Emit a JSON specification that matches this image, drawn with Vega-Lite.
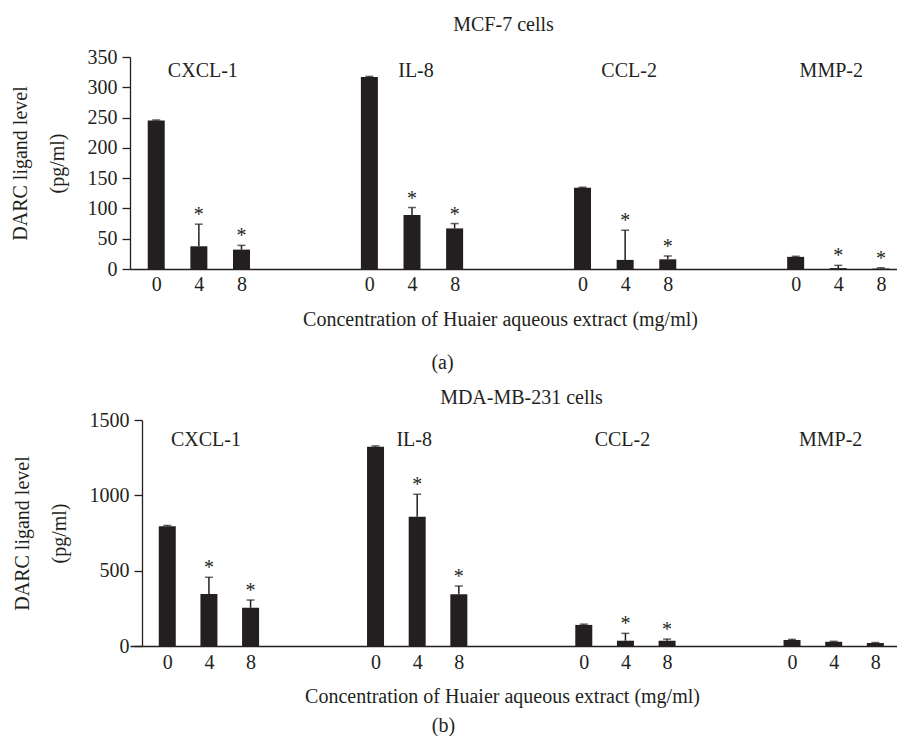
{
  "$schema": "https://vega.github.io/schema/vega-lite/v6.json",
  "padding": {"left": 10, "top": 15, "right": 0, "bottom": 0},
  "background": "white",
  "config": {
    "font": "Liberation Serif",
    "view": {"stroke": null},
    "axis": {
      "grid": false,
      "labelFont": "Liberation Serif",
      "labelFontSize": 20,
      "labelColor": "#231f20",
      "labelOverlap": false,
      "titleFont": "Liberation Serif",
      "titleFontSize": 20,
      "titleFontWeight": "normal",
      "titleColor": "#231f20",
      "domainColor": "#231f20",
      "domainWidth": 1.3,
      "tickColor": "#231f20",
      "tickWidth": 1.3,
      "tickSize": 8
    },
    "title": {"font": "Liberation Serif", "fontSize": 20, "fontWeight": "normal", "color": "#231f20"},
    "text": {"font": "Liberation Serif", "fontSize": 20, "color": "#231f20"}
  },
  "datasets": {
    "mcf": [
      {"ligand": "CXCL-1", "conc": 0, "value": 245, "sd": 1, "sig": false},
      {"ligand": "CXCL-1", "conc": 4, "value": 37.5, "sd": 36.5, "sig": true},
      {"ligand": "CXCL-1", "conc": 8, "value": 32, "sd": 7, "sig": true},
      {"ligand": "IL-8", "conc": 0, "value": 317, "sd": 1, "sig": false},
      {"ligand": "IL-8", "conc": 4, "value": 89, "sd": 12.5, "sig": true},
      {"ligand": "IL-8", "conc": 8, "value": 67, "sd": 8, "sig": true},
      {"ligand": "CCL-2", "conc": 0, "value": 134, "sd": 1, "sig": false},
      {"ligand": "CCL-2", "conc": 4, "value": 15, "sd": 49, "sig": true},
      {"ligand": "CCL-2", "conc": 8, "value": 16, "sd": 5.5, "sig": true},
      {"ligand": "MMP-2", "conc": 0, "value": 20, "sd": 1, "sig": false},
      {"ligand": "MMP-2", "conc": 4, "value": 1.5, "sd": 4.5, "sig": true},
      {"ligand": "MMP-2", "conc": 8, "value": 0.8, "sd": 1.2, "sig": true}
    ],
    "mda": [
      {"ligand": "CXCL-1", "conc": 0, "value": 795, "sd": 5, "sig": false},
      {"ligand": "CXCL-1", "conc": 4, "value": 345, "sd": 111, "sig": true},
      {"ligand": "CXCL-1", "conc": 8, "value": 254, "sd": 51, "sig": true},
      {"ligand": "IL-8", "conc": 0, "value": 1323, "sd": 5, "sig": false},
      {"ligand": "IL-8", "conc": 4, "value": 858, "sd": 149, "sig": true},
      {"ligand": "IL-8", "conc": 8, "value": 343, "sd": 55, "sig": true},
      {"ligand": "CCL-2", "conc": 0, "value": 140, "sd": 5, "sig": false},
      {"ligand": "CCL-2", "conc": 4, "value": 35, "sd": 49, "sig": true},
      {"ligand": "CCL-2", "conc": 8, "value": 35, "sd": 11, "sig": true},
      {"ligand": "MMP-2", "conc": 0, "value": 40, "sd": 4, "sig": false},
      {"ligand": "MMP-2", "conc": 4, "value": 28, "sd": 3, "sig": false},
      {"ligand": "MMP-2", "conc": 8, "value": 20, "sd": 3, "sig": false}
    ]
  },
  "spacing": 15,
  "vconcat": [
    {
      "title": {"text": "(a)", "orient": "bottom", "frame": "bounds", "anchor": "middle", "dx": -11, "offset": 24},
      "vconcat": [
        {
          "data": {"name": "mcf"},
          "title": {"text": "MCF-7 cells", "anchor": "middle", "frame": "group", "dx": -10, "offset": 12},
          "width": 767,
          "height": 212,
          "transform": [
            {"calculate": "indexof(['CXCL-1','IL-8','CCL-2','MMP-2'], datum.ligand) * 5 + datum.conc / 4", "as": "pos"},
            {"calculate": "datum.value + datum.sd", "as": "upper"}
          ],
          "encoding": {
            "x": {
              "field": "pos", "type": "quantitative",
              "scale": {"domain": [-0.498, 17.26], "nice": false, "zero": false},
              "axis": {
                "values": [0, 1, 2, 5, 6, 7, 10, 11, 12, 15, 16, 17],
                "labelExpr": "datum.value % 5 == 0 ? '0' : (datum.value % 5 == 1 ? '4' : '8')",
                "ticks": false,
                "labelPadding": 5,
                "labelFlush": false,
                "title": "Concentration of Huaier aqueous extract (mg/ml)",
                "titlePadding": 15,
                "titleX": 370
              }
            }
          },
          "layer": [
            {
              "mark": {"type": "bar", "size": 17, "color": "#231f20"},
              "encoding": {
                "y": {
                  "field": "value", "type": "quantitative",
                  "scale": {"domain": [0, 350], "nice": false},
                  "axis": {"values": [0, 50, 100, 150, 200, 250, 300, 350], "format": "d", "title": ["DARC ligand level", "(pg/ml)"], "titleLineHeight": 37, "titlePadding": 20, "labelPadding": 5}
                }
              }
            },
            {
              "mark": {"type": "rule", "color": "#231f20", "strokeWidth": 1.5},
              "encoding": {
                "y": {"field": "value", "type": "quantitative",
                  "axis": {"values": [0, 50, 100, 150, 200, 250, 300, 350], "format": "d", "title": ["DARC ligand level", "(pg/ml)"], "titleLineHeight": 37, "titlePadding": 20, "labelPadding": 5}},
                "y2": {"field": "upper"}
              }
            },
            {
              "mark": {"type": "tick", "orient": "horizontal", "size": 8, "thickness": 1.5, "color": "#231f20"},
              "encoding": {"y": {"field": "upper", "type": "quantitative",
                "axis": {"values": [0, 50, 100, 150, 200, 250, 300, 350], "format": "d", "title": ["DARC ligand level", "(pg/ml)"], "titleLineHeight": 37, "titlePadding": 20, "labelPadding": 5}}}
            },
            {
              "transform": [{"filter": "datum.sig"}],
              "mark": {"type": "text", "text": "*", "baseline": "alphabetic", "align": "center", "dy": -3, "fontSize": 20},
              "encoding": {"y": {"field": "upper", "type": "quantitative",
                "axis": {"values": [0, 50, 100, 150, 200, 250, 300, 350], "format": "d", "title": ["DARC ligand level", "(pg/ml)"], "titleLineHeight": 37, "titlePadding": 20, "labelPadding": 5}}}
            },
            {
              "transform": [{"filter": "datum.conc == 4 && datum.ligand != 'MMP-2'"}],
              "mark": {"type": "text", "baseline": "alphabetic", "align": "center", "dx": 4, "fontSize": 20},
              "encoding": {"y": {"datum": 317, "type": "quantitative",
                "axis": {"values": [0, 50, 100, 150, 200, 250, 300, 350], "format": "d", "title": ["DARC ligand level", "(pg/ml)"], "titleLineHeight": 37, "titlePadding": 20, "labelPadding": 5}}, "text": {"field": "ligand"}}
            },
            {
              "transform": [{"filter": "datum.conc == 4 && datum.ligand == 'MMP-2'"}],
              "mark": {"type": "text", "baseline": "alphabetic", "align": "center", "dx": -7, "fontSize": 20},
              "encoding": {"y": {"datum": 317, "type": "quantitative",
                "axis": {"values": [0, 50, 100, 150, 200, 250, 300, 350], "format": "d", "title": ["DARC ligand level", "(pg/ml)"], "titleLineHeight": 37, "titlePadding": 20, "labelPadding": 5}}, "text": {"field": "ligand"}}
            }
          ]
        }
      ]
    },
    {
      "title": {"text": "(b)", "orient": "bottom", "frame": "bounds", "anchor": "middle", "dx": -11, "offset": 10},
      "vconcat": [
        {
          "data": {"name": "mda"},
          "title": {"text": "MDA-MB-231 cells", "anchor": "middle", "frame": "group", "dx": 8, "offset": 2},
          "width": 767,
          "height": 226,
          "transform": [
            {"calculate": "indexof(['CXCL-1','IL-8','CCL-2','MMP-2'], datum.ligand) * 5 + datum.conc / 4", "as": "pos"},
            {"calculate": "datum.value + datum.sd", "as": "upper"}
          ],
          "encoding": {
            "x": {
              "field": "pos", "type": "quantitative",
              "scale": {"domain": [-0.775, 17.40], "nice": false, "zero": false},
              "axis": {
                "values": [0, 1, 2, 5, 6, 7, 10, 11, 12, 15, 16, 17],
                "labelExpr": "datum.value % 5 == 0 ? '0' : (datum.value % 5 == 1 ? '4' : '8')",
                "ticks": false,
                "labelPadding": 6,
                "labelFlush": false,
                "title": "Concentration of Huaier aqueous extract (mg/ml)",
                "titlePadding": 14,
                "titleX": 372
              }
            }
          },
          "layer": [
            {
              "mark": {"type": "bar", "size": 17, "color": "#231f20"},
              "encoding": {
                "y": {
                  "field": "value", "type": "quantitative",
                  "scale": {"domain": [0, 1500], "nice": false},
                  "axis": {"values": [0, 500, 1000, 1500], "format": "d", "title": ["DARC ligand level", "(pg/ml)"], "titleLineHeight": 37, "titlePadding": 20, "labelPadding": 5, "offset": -12}
                }
              }
            },
            {
              "mark": {"type": "rule", "color": "#231f20", "strokeWidth": 1.5},
              "encoding": {
                "y": {"field": "value", "type": "quantitative",
                  "axis": {"values": [0, 500, 1000, 1500], "format": "d", "title": ["DARC ligand level", "(pg/ml)"], "titleLineHeight": 37, "titlePadding": 20, "labelPadding": 5, "offset": -12}},
                "y2": {"field": "upper"}
              }
            },
            {
              "mark": {"type": "tick", "orient": "horizontal", "size": 8, "thickness": 1.5, "color": "#231f20"},
              "encoding": {"y": {"field": "upper", "type": "quantitative",
                "axis": {"values": [0, 500, 1000, 1500], "format": "d", "title": ["DARC ligand level", "(pg/ml)"], "titleLineHeight": 37, "titlePadding": 20, "labelPadding": 5, "offset": -12}}}
            },
            {
              "transform": [{"filter": "datum.sig"}],
              "mark": {"type": "text", "text": "*", "baseline": "alphabetic", "align": "center", "dy": -3, "fontSize": 20},
              "encoding": {"y": {"field": "upper", "type": "quantitative",
                "axis": {"values": [0, 500, 1000, 1500], "format": "d", "title": ["DARC ligand level", "(pg/ml)"], "titleLineHeight": 37, "titlePadding": 20, "labelPadding": 5, "offset": -12}}}
            },
            {
              "transform": [{"filter": "datum.conc == 4"}],
              "mark": {"type": "text", "baseline": "alphabetic", "align": "center", "dx": -3, "fontSize": 20},
              "encoding": {"y": {"datum": 1327, "type": "quantitative",
                "axis": {"values": [0, 500, 1000, 1500], "format": "d", "title": ["DARC ligand level", "(pg/ml)"], "titleLineHeight": 37, "titlePadding": 20, "labelPadding": 5, "offset": -12}}, "text": {"field": "ligand"}}
            }
          ]
        }
      ]
    }
  ]
}
